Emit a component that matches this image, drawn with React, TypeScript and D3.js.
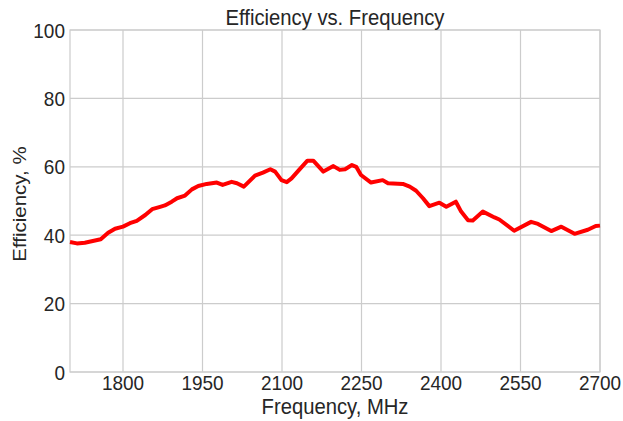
import React, { useRef, useEffect } from 'react';
import * as d3 from 'd3';

// frequency (MHz) and efficiency (%)
const freqs = [
  1700, 1713, 1728, 1743, 1758, 1772, 1785, 1800, 1813, 1826, 1842, 1855, 1870, 1879, 1892,
  1902, 1917, 1930, 1942, 1958, 1977, 1988, 2005, 2015, 2028, 2049, 2064, 2078, 2087, 2099,
  2109, 2118, 2131, 2148, 2159, 2178, 2197, 2209, 2219, 2232, 2240, 2249, 2268, 2290, 2300,
  2328, 2341, 2353, 2366, 2378, 2397, 2410, 2428, 2438, 2451, 2460, 2479, 2501, 2510, 2538,
  2570, 2583, 2608, 2627, 2652, 2677, 2692, 2700,
];
const efficiency = [
  38.0, 37.6, 37.8, 38.3, 38.8, 40.7, 41.9, 42.5, 43.5, 44.2, 45.9, 47.6, 48.3, 48.7, 49.8,
  50.8, 51.6, 53.4, 54.4, 55.0, 55.4, 54.7, 55.6, 55.2, 54.2, 57.4, 58.3, 59.3, 58.6, 56.1,
  55.5, 56.6, 58.9, 61.8, 61.8, 58.6, 60.2, 59.1, 59.3, 60.5, 60.0, 57.6, 55.4, 56.1, 55.2,
  55.0, 54.2, 53.0, 50.8, 48.5, 49.5, 48.3, 49.8, 46.9, 44.4, 44.3, 46.9, 45.2, 44.6, 41.3,
  43.9, 43.3, 41.2, 42.5, 40.4, 41.6, 42.7, 42.8,
];
const xTicks = [1800, 1950, 2100, 2250, 2400, 2550, 2700];
const yTicks = [0, 20, 40, 60, 80, 100];

const W = 623;
const H = 421;
const margin = { top: 30, right: 23, bottom: 49, left: 70 };

const App: React.FC = () => {
  const svgRef = useRef<SVGSVGElement | null>(null);

  useEffect(() => {
    if (!svgRef.current) return;
    const svg = d3.select(svgRef.current);
    svg.selectAll('*').remove();

    const font = 'Liberation Sans, Arial, sans-serif';
    const textColor = '#262626';
    const gridColor = '#cccccc';

    const x = d3.scaleLinear().domain([1700, 2700]).range([margin.left, W - margin.right]);
    const y = d3.scaleLinear().domain([0, 100]).range([H - margin.bottom, margin.top]);

    const g = svg.append('g');

    // grid
    g.selectAll('.vgrid')
      .data(xTicks)
      .enter()
      .append('line')
      .attr('x1', d => x(d))
      .attr('x2', d => x(d))
      .attr('y1', y(0))
      .attr('y2', y(100))
      .attr('stroke', gridColor)
      .attr('stroke-width', 1.2);

    g.selectAll('.hgrid')
      .data(yTicks)
      .enter()
      .append('line')
      .attr('x1', x(1700))
      .attr('x2', x(2700))
      .attr('y1', d => y(d))
      .attr('y2', d => y(d))
      .attr('stroke', gridColor)
      .attr('stroke-width', 1.2);

    // frame
    g.append('rect')
      .attr('x', x(1700))
      .attr('y', y(100))
      .attr('width', x(2700) - x(1700))
      .attr('height', y(0) - y(100))
      .attr('fill', 'none')
      .attr('stroke', gridColor)
      .attr('stroke-width', 1.2);

    // data line
    const pts = freqs.map((f, i) => [f, efficiency[i]] as [number, number]);
    const line = d3.line<[number, number]>()
      .x(d => x(d[0]))
      .y(d => y(d[1]));

    g.append('path')
      .datum(pts)
      .attr('fill', 'none')
      .attr('stroke', '#ff0000')
      .attr('stroke-width', 4)
      .attr('stroke-linejoin', 'round')
      .attr('d', line);

    // tick labels (the reference text is a bit narrow, so squeeze it horizontally)
    g.selectAll('.xt')
      .data(xTicks)
      .enter()
      .append('text')
      .attr('transform', d => `translate(${x(d)}, ${y(0) + 18}) scale(0.95, 1)`)
      .attr('text-anchor', 'middle')
      .attr('font-family', font)
      .attr('font-size', 20)
      .attr('fill', textColor)
      .text(d => d);

    g.selectAll('.yt')
      .data(yTicks)
      .enter()
      .append('text')
      .attr('transform', d => `translate(${x(1700) - 5}, ${y(d) + 7.5}) scale(0.95, 1)`)
      .attr('text-anchor', 'end')
      .attr('font-family', font)
      .attr('font-size', 20)
      .attr('fill', textColor)
      .text(d => d);

    // titles
    g.append('text')
      .attr('transform', `translate(${(x(1700) + x(2700)) / 2}, 25) scale(0.9, 1)`)
      .attr('text-anchor', 'middle')
      .attr('font-family', font)
      .attr('font-size', 22.5)
      .attr('fill', textColor)
      .text('Efficiency vs. Frequency');

    g.append('text')
      .attr('transform', `translate(${(x(1700) + x(2700)) / 2}, 414) scale(0.9, 1)`)
      .attr('text-anchor', 'middle')
      .attr('font-family', font)
      .attr('font-size', 22.5)
      .attr('fill', textColor)
      .text('Frequency, MHz');

    g.append('text')
      .attr('transform', `translate(26, ${(y(0) + y(100)) / 2 + 3}) rotate(-90) scale(1, 0.88)`)
      .attr('text-anchor', 'middle')
      .attr('font-family', font)
      .attr('font-size', 20.5)
      .attr('fill', textColor)
      .text('Efficiency, %');
  }, []);

  return (
    <svg
      ref={svgRef}
      width={W}
      height={H}
      style={{ position: 'absolute', left: 0, top: 0, background: '#ffffff' }}
    />
  );
};

export default App;
